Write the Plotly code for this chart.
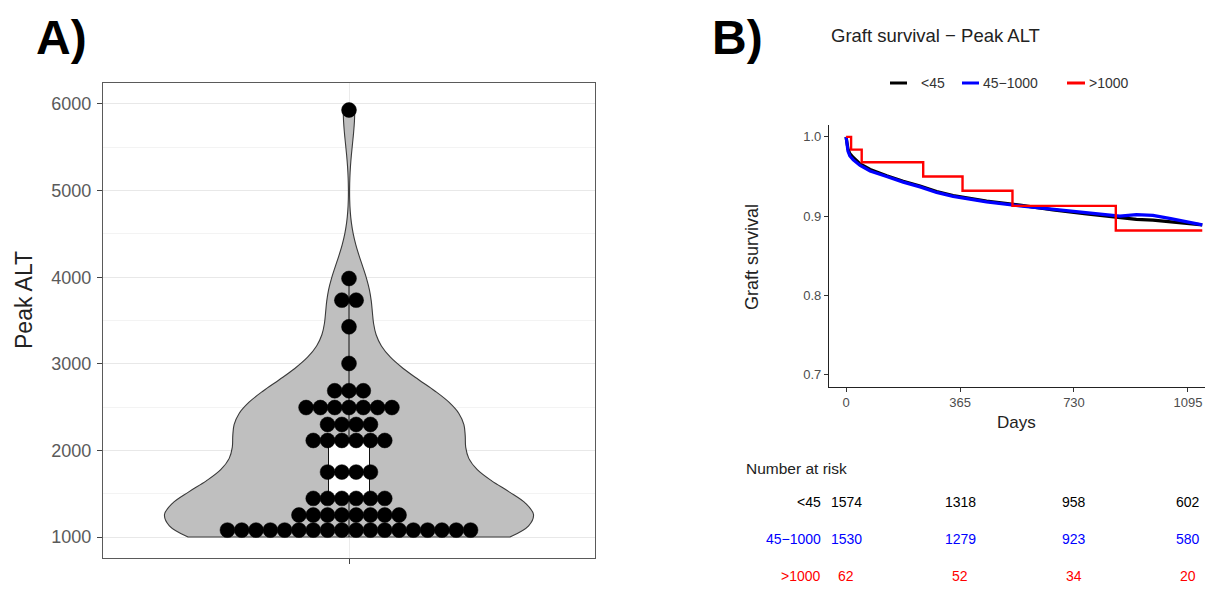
import numpy as np
import plotly.graph_objects as go

W, H = 1205, 594

# ---------------- Panel A: peak ALT (>1000 group) ----------------
# dot-stack rows: bin value and number of patients in that bin
alt_row_values = [1080, 1254, 1446, 1750, 2115, 2300, 2495, 2689, 3004, 3427, 3735, 3985, 5930]
alt_row_counts = [18, 8, 6, 4, 6, 4, 7, 3, 1, 1, 2, 1, 1]

# box summary (quartiles and whisker ends)
box_q1, box_median, box_q3 = 1450, 1750, 2100
box_lower, box_upper = 1000, 3985

alt_ticks = [1000, 2000, 3000, 4000, 5000, 6000]
alt_minor = [1500, 2500, 3500, 4500, 5500]

# ---------------- Panel B: graft survival by peak ALT ----------------
km_days = [0, 2, 6, 12, 23, 45, 77, 130, 183, 237, 290, 343, 397, 450, 557, 663,
           770, 877, 930, 983, 1040, 1090, 1141]
km_surv_lt45 = [1.0, 0.993, 0.985, 0.979, 0.974, 0.966, 0.959, 0.951, 0.944, 0.938,
                0.931, 0.926, 0.922, 0.919, 0.914, 0.908, 0.903, 0.898, 0.896,
                0.895, 0.893, 0.891, 0.889]
km_surv_mid = [1.0, 0.990, 0.982, 0.976, 0.971, 0.964, 0.957, 0.950, 0.943, 0.937,
               0.930, 0.925, 0.921, 0.918, 0.913, 0.909, 0.904, 0.900, 0.902,
               0.901, 0.897, 0.893, 0.889]
km_days_gt1000 = [0, 16, 50, 247, 373, 533, 864, 1141]
km_surv_gt1000 = [1.0, 0.984, 0.968, 0.950, 0.932, 0.913, 0.882, 0.882]

group_names = ["<45", "45\u22121000", ">1000"]
group_colors = ["#000000", "#0000FF", "#FF0000"]

risk_days = [0, 365, 730, 1095]
risk_counts = [
    [1574, 1318, 958, 602],
    [1530, 1279, 923, 580],
    [62, 52, 34, 20],
]
surv_ticks = [0.7, 0.8, 0.9, 1.0]

FONT = "Liberation Sans, Arial, sans-serif"


def px(xp):
    return xp / W


def py(yp):
    return 1 - yp / H


# panel geometry (pixels)
A_L, A_R, A_T, A_B = 103, 595, 83, 558
B_L, B_R, B_T, B_B = 829, 1205, 125, 386.7

fig = go.Figure()

# ---- violin + box + dots ----
alt_values = np.repeat(alt_row_values, alt_row_counts)
fig.add_trace(go.Violin(
    x=[1] * len(alt_values), y=alt_values,
    width=0.9, scalemode="width", spanmode="manual", span=[1000, 5930],
    bandwidth=390, points=False, box_visible=False, meanline_visible=False,
    fillcolor="#bfbfbf", line=dict(color="#3a3a3a", width=1.1),
    opacity=1, showlegend=False, hoverinfo="skip",
    xaxis="x", yaxis="y",
))
fig.add_trace(go.Box(
    x=[1], q1=[box_q1], median=[box_median], q3=[box_q3],
    lowerfence=[box_lower], upperfence=[box_upper],
    width=0.1, whiskerwidth=0, fillcolor="white",
    line=dict(color="#111111", width=1), boxpoints=False,
    showlegend=False, hoverinfo="skip", xaxis="x", yaxis="y",
))

# centred dot stacks: neighbouring dots touch horizontally
DOT_PX = 14.3
x_per_px = 1.2 / (A_R - A_L)
dot_x, dot_y = [], []
for v, c in zip(alt_row_values, alt_row_counts):
    offs = (np.arange(c) - (c - 1) / 2) * DOT_PX * x_per_px
    dot_x.extend(1 + offs)
    dot_y.extend([v] * c)
fig.add_trace(go.Scatter(
    x=dot_x, y=dot_y, mode="markers",
    marker=dict(size=DOT_PX + 0.6, color="black", line=dict(color="black", width=0.5)),
    showlegend=False, hoverinfo="skip", xaxis="x", yaxis="y",
))

# ---- survival curves ----
fig.add_trace(go.Scatter(x=km_days, y=km_surv_lt45, mode="lines",
                         line=dict(color=group_colors[0], width=3.2),
                         showlegend=False, hoverinfo="skip", xaxis="x2", yaxis="y2"))
fig.add_trace(go.Scatter(x=km_days, y=km_surv_mid, mode="lines",
                         line=dict(color=group_colors[1], width=3.2),
                         showlegend=False, hoverinfo="skip", xaxis="x2", yaxis="y2"))
fig.add_trace(go.Scatter(x=km_days_gt1000, y=km_surv_gt1000, mode="lines",
                         line=dict(color=group_colors[2], width=2.4, shape="hv"),
                         showlegend=False, hoverinfo="skip", xaxis="x2", yaxis="y2"))

tick_grey = "#4d4d4d"
fig.update_layout(
    width=W, height=H,
    margin=dict(l=0, r=0, t=0, b=0),
    paper_bgcolor="white", plot_bgcolor="white",
    font=dict(family=FONT, color=tick_grey),
    boxmode="overlay", violinmode="overlay",
    xaxis=dict(
        domain=[px(A_L), px(A_R)], range=[0.4, 1.6],
        tickvals=[1], ticktext=[""], ticks="outside", ticklen=5,
        tickcolor="#444444", showgrid=True, gridcolor="#ebebeb", gridwidth=1,
        showline=True, mirror=True, linecolor="#5a5a5a", linewidth=1.2,
        zeroline=False, fixedrange=True,
    ),
    yaxis=dict(
        domain=[py(A_B), py(A_T)], range=[758, 6242],
        tickvals=alt_ticks, ticks="outside", ticklen=5, tickcolor="#444444",
        tickfont=dict(size=18, color="#5a5a5a"), ticklabelstandoff=2,
        showgrid=True, gridcolor="#e8e8e8", gridwidth=1.1,
        minor=dict(tickvals=alt_minor, showgrid=True, gridcolor="#f3f3f3", gridwidth=0.8),
        showline=True, mirror=True, linecolor="#5a5a5a", linewidth=1.2,
        zeroline=False, fixedrange=True,
    ),
    xaxis2=dict(
        domain=[px(B_L), px(B_R)], range=[-54.75, 1149.75],
        tickvals=risk_days, ticks="outside", ticklen=4, tickcolor="#333333",
        tickfont=dict(size=13, color=tick_grey),
        showgrid=False, showline=True, linecolor="#222222", linewidth=1.3,
        zeroline=False, fixedrange=True, anchor="y2",
    ),
    yaxis2=dict(
        domain=[py(B_B), py(B_T)], range=[0.685, 1.015],
        tickvals=surv_ticks, ticktext=["0.7", "0.8", "0.9", "1.0"],
        ticks="outside", ticklen=4, tickcolor="#333333",
        tickfont=dict(size=13, color=tick_grey),
        showgrid=False, showline=True, linecolor="#222222", linewidth=1.3,
        zeroline=False, fixedrange=True, anchor="x2",
    ),
)

ann = []
# panel letters
ann.append(dict(x=px(34), y=py(37), xref="paper", yref="paper", text="<b>A)</b>",
                showarrow=False, xanchor="left", yanchor="middle",
                font=dict(size=48, color="black", family=FONT)))
ann.append(dict(x=px(710), y=py(37), xref="paper", yref="paper", text="<b>B)</b>",
                showarrow=False, xanchor="left", yanchor="middle",
                font=dict(size=48, color="black", family=FONT)))
# panel A y title
ann.append(dict(x=px(24), y=py(300), xref="paper", yref="paper", text="Peak ALT",
                textangle=-90, showarrow=False, xanchor="center", yanchor="middle",
                font=dict(size=23, color="#222222")))
# panel B title
ann.append(dict(x=px(829), y=py(35), xref="paper", yref="paper",
                text="Graft survival \u2212 Peak ALT", showarrow=False,
                xanchor="left", yanchor="middle", font=dict(size=18.5, color="#222222")))
# panel B axis titles
ann.append(dict(x=px(752), y=py(257), xref="paper", yref="paper", text="Graft survival",
                textangle=-90, showarrow=False, xanchor="center", yanchor="middle",
                font=dict(size=18, color="#222222")))
ann.append(dict(x=px(1016), y=py(422), xref="paper", yref="paper", text="Days",
                showarrow=False, xanchor="center", yanchor="middle",
                font=dict(size=17, color="#222222")))

# legend drawn as short line keys with labels
shapes = []
legend_keys = [(890, 907, 919), (962, 979, 981), (1067, 1085, 1087)]
for (x0, x1, xt), name, col in zip(legend_keys, group_names, group_colors):
    shapes.append(dict(type="line", xref="paper", yref="paper",
                       x0=px(x0), x1=px(x1), y0=py(83), y1=py(83),
                       line=dict(color=col, width=3)))
    ann.append(dict(x=px(xt), y=py(83), xref="paper", yref="paper", text=name,
                    showarrow=False, xanchor="left", yanchor="middle",
                    font=dict(size=14, color="#333333")))

# number-at-risk table
ann.append(dict(x=px(744), y=py(468), xref="paper", yref="paper", text="Number at risk",
                showarrow=False, xanchor="left", yanchor="middle",
                font=dict(size=15.5, color="#222222")))
row_y = [502, 539, 576]
for g, (name, col, counts) in enumerate(zip(group_names, group_colors, risk_counts)):
    ann.append(dict(x=px(823), y=py(row_y[g]), xref="paper", yref="paper", text=name,
                    showarrow=False, xanchor="right", yanchor="middle",
                    font=dict(size=14, color=col)))
    for d, n in zip(risk_days, counts):
        ann.append(dict(x=d, y=py(row_y[g]), xref="x2", yref="paper", text=str(n),
                        showarrow=False, xanchor="center", yanchor="middle",
                        font=dict(size=14, color=col)))

fig.update_layout(annotations=ann, shapes=shapes)
fig.write_html("out.html")
